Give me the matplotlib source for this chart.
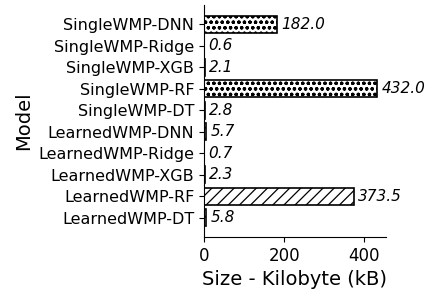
import matplotlib.pyplot as plt

models = ['SingleWMP-DNN', 'SingleWMP-Ridge', 'SingleWMP-XGB', 'SingleWMP-RF', 'SingleWMP-DT',
          'LearnedWMP-DNN', 'LearnedWMP-Ridge', 'LearnedWMP-XGB', 'LearnedWMP-RF', 'LearnedWMP-DT']
sizes_kb = [182.0, 0.6, 2.1, 432.0, 2.8, 5.7, 0.7, 2.3, 373.5, 5.8]
hatches = ['ooo'] * 5 + ['///'] * 5

fig, ax = plt.subplots(figsize=(4.37, 2.91), dpi=100)
plt.rcParams['hatch.linewidth'] = 0.9

ypos = list(range(len(models)))
bars = ax.barh(ypos, sizes_kb, height=0.8, color='white', edgecolor='black', linewidth=1.2)
for b, h in zip(bars, hatches):
    b.set_hatch(h)

for y, v in zip(ypos, sizes_kb):
    ax.annotate(f'{v:.1f}', (v, y), xytext=(3, 0), textcoords='offset points',
                va='center', ha='left', fontsize=11, style='italic')

ax.set_yticks(ypos)
ax.set_yticklabels(models, fontsize=11.5)
ax.set_ylim(9.89, -0.9)
ax.set_xlim(0, 453.6)
ax.set_xticks([0, 200, 400])
ax.tick_params(axis='x', labelsize=12)
ax.set_xlabel('Size - Kilobyte (kB)', fontsize=14)
ax.set_ylabel('Model', fontsize=14)
ax.spines['top'].set_visible(False)
ax.spines['right'].set_visible(False)

fig.subplots_adjust(left=0.467, right=0.883, top=0.983, bottom=0.186)
fig.savefig('out.png', dpi=100)
